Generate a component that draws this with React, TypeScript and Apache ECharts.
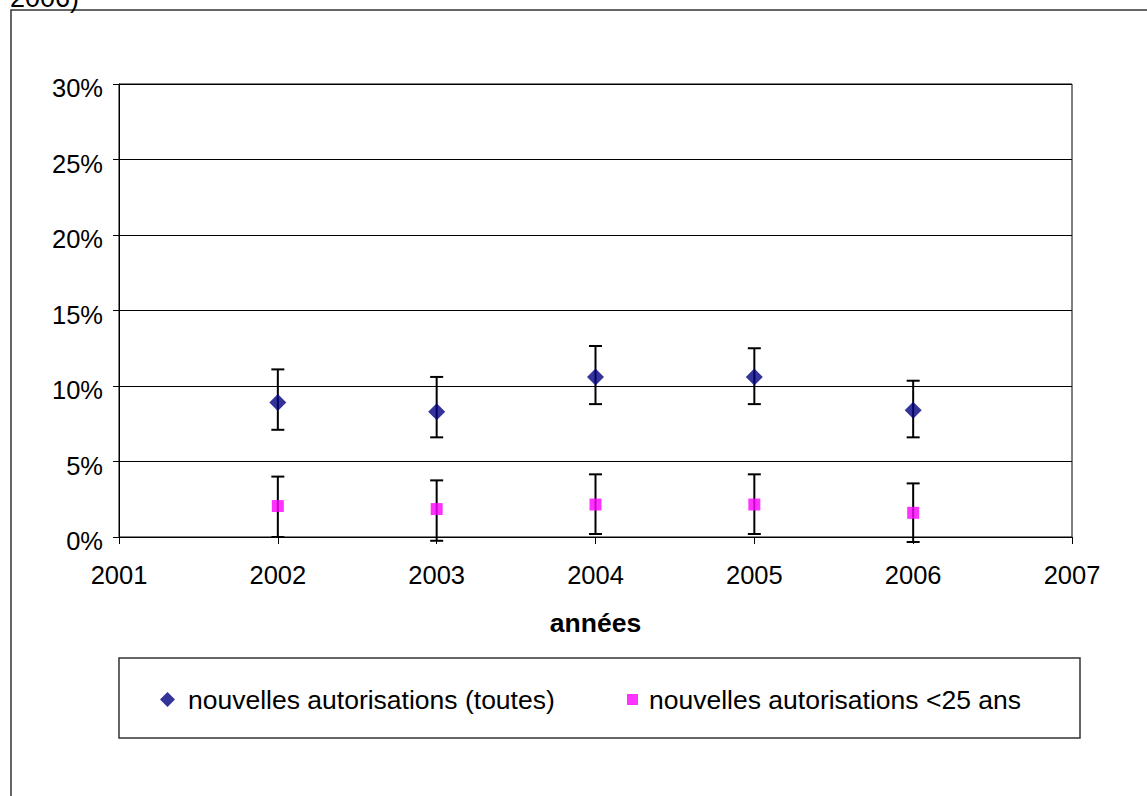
import React, { useEffect, useRef } from "react";
import * as echarts from "echarts";

const years = [2002, 2003, 2004, 2005, 2006];
const toutesValues = [8.9, 8.3, 10.6, 10.6, 8.4];
const toutesLow = [7.1, 6.6, 8.8, 8.8, 6.6];
const toutesHigh = [11.1, 10.6, 12.65, 12.5, 10.35];
const moins25Values = [2.05, 1.85, 2.15, 2.15, 1.6];
const moins25Low = [0.0, -0.25, 0.2, 0.2, -0.33];
const moins25High = [4.0, 3.75, 4.15, 4.15, 3.55];
const yTicks = [0, 5, 10, 15, 20, 25, 30];
const xRange = [2001, 2007];
const seriesNames = ["nouvelles autorisations (toutes)", "nouvelles autorisations <25 ans"];
const xAxisTitle = "années";
const cutTitle = "2006)";

const FONT = "'Liberation Sans', Arial, Helvetica, sans-serif";

function errorRender(params: any, api: any) {
  const x = api.value(0);
  const lo = api.coord([x, api.value(1)]);
  const hi = api.coord([x, api.value(2)]);
  const half = 6.5;
  const st = { stroke: "#000", lineWidth: 2 };
  return {
    type: "group",
    children: [
      { type: "line", shape: { x1: lo[0], y1: lo[1], x2: hi[0], y2: hi[1] }, style: st },
      { type: "line", shape: { x1: lo[0] - half, y1: lo[1], x2: lo[0] + half, y2: lo[1] }, style: st },
      { type: "line", shape: { x1: hi[0] - half, y1: hi[1], x2: hi[0] + half, y2: hi[1] }, style: st },
    ],
  };
}

export default function App() {
  const ref = useRef<HTMLDivElement>(null);
  useEffect(() => {
    if (!ref.current) return;
    const chart = echarts.init(ref.current, null, { renderer: "svg" });
    const option: any = {
      animation: false,
      backgroundColor: "#fff",
      textStyle: { fontFamily: FONT },
      grid: {
        left: 119,
        right: 75,
        top: 84,
        bottom: 259,
        show: true,
        borderColor: "#000",
        borderWidth: 1,
        backgroundColor: "transparent",
      },
      xAxis: {
        type: "value",
        min: xRange[0],
        max: xRange[1],
        interval: 1,
        name: xAxisTitle,
        nameLocation: "middle",
        nameGap: 72,
        nameTextStyle: { fontSize: 26.5, fontWeight: "bold", color: "#000", fontFamily: FONT },
        axisLine: { show: true, lineStyle: { color: "#000", width: 1 } },
        axisTick: { show: true, length: 7, inside: false, lineStyle: { color: "#000" } },
        axisLabel: { fontSize: 25.5, color: "#000", margin: 25, fontFamily: FONT, formatter: (v: number) => String(v) },
        splitLine: { show: false },
      },
      yAxis: {
        type: "value",
        min: yTicks[0],
        max: yTicks[yTicks.length - 1],
        interval: 5,
        axisLine: { show: true, lineStyle: { color: "#000", width: 1 } },
        axisTick: { show: true, length: 6, lineStyle: { color: "#000" } },
        axisLabel: {
          fontSize: 25.5,
          color: "#000",
          margin: 16,
          fontFamily: FONT,
          formatter: "{value}%",
          verticalAlign: "top",
          lineHeight: 8,
        },
        splitLine: { show: true, lineStyle: { color: "#000", width: 1 } },
      },
      legend: [
        {
          data: [{ name: seriesNames[0], icon: "diamond" }],
          left: 160,
          top: 686,
          padding: 0,
          itemWidth: 15,
          itemHeight: 15,
          textStyle: { fontSize: 26.5, color: "#000", fontFamily: FONT, padding: [0, 0, 0, 8] },
          selectedMode: false,
        },
        {
          data: [{ name: seriesNames[1], icon: "rect" }],
          left: 627,
          top: 686,
          padding: 0,
          itemWidth: 11,
          itemHeight: 11,
          textStyle: { fontSize: 26.5, color: "#000", fontFamily: FONT, padding: [0, 0, 0, 6] },
          selectedMode: false,
        },
      ],
      graphic: [
        {
          type: "rect",
          shape: { x: 11, y: 10, width: 1300, height: 900 },
          style: { fill: "none", stroke: "#333", lineWidth: 1.5 },
          silent: true,
        },
        {
          type: "rect",
          shape: { x: 119, y: 658, width: 961, height: 80 },
          style: { fill: "none", stroke: "#333", lineWidth: 1.5 },
          silent: true,
        },
        {
          type: "text",
          x: 10,
          y: 11,
          style: { text: cutTitle, font: `27px ${FONT}`, fill: "#000", verticalAlign: "bottom" },
          silent: true,
        },
      ],
      series: [
        {
          type: "custom",
          name: "err1",
          renderItem: errorRender,
          data: years.map((y, i) => [y, toutesLow[i], toutesHigh[i]]),
          encode: { x: 0, y: [1, 2] },
          z: 2,
          silent: true,
        },
        {
          type: "custom",
          name: "err2",
          renderItem: errorRender,
          data: years.map((y, i) => [y, moins25Low[i], moins25High[i]]),
          encode: { x: 0, y: [1, 2] },
          z: 2,
          silent: true,
        },
        {
          type: "scatter",
          name: seriesNames[0],
          symbol: "diamond",
          symbolSize: 17,
          itemStyle: { color: "#000080" },
          data: years.map((y, i) => [y, toutesValues[i]]),
          z: 5,
        },
        {
          type: "scatter",
          name: seriesNames[1],
          symbol: "rect",
          symbolSize: 12,
          itemStyle: { color: "#FF00FF" },
          data: years.map((y, i) => [y, moins25Values[i]]),
          z: 5,
        },
      ],
    };
    chart.setOption(option);
    return () => chart.dispose();
  }, []);
  return (
    <div
      ref={ref}
      style={{ position: "absolute", left: 0, top: 0, width: 1147, height: 796, overflow: "hidden" }}
    />
  );
}
